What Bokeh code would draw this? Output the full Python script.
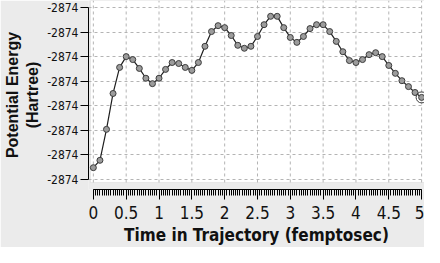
from bokeh.plotting import figure
from bokeh.models import Range1d, FixedTicker, SingleIntervalTicker, NumeralTickFormatter, BoxAnnotation, ColumnDataSource
from bokeh.embed import file_html
from bokeh.resources import INLINE

# Data
time_fs = [0.0, 0.1, 0.2, 0.3, 0.4, 0.5, 0.6, 0.7, 0.8, 0.9,
           1.0, 1.1, 1.2, 1.3, 1.4, 1.5, 1.6, 1.7, 1.8, 1.9,
           2.0, 2.1, 2.2, 2.3, 2.4, 2.5, 2.6, 2.7, 2.8, 2.9,
           3.0, 3.1, 3.2, 3.3, 3.4, 3.5, 3.6, 3.7, 3.8, 3.9,
           4.0, 4.1, 4.2, 4.3, 4.4, 4.5, 4.6, 4.7, 4.8, 4.9, 5.0]
energy_hartree = [-2874.276, -2874.261, -2874.198, -2874.125, -2874.072, -2874.050, -2874.056, -2874.074, -2874.094, -2874.105,
                  -2874.094, -2874.076, -2874.062, -2874.064, -2874.072, -2874.078, -2874.062, -2874.029, -2873.999, -2873.987,
                  -2873.991, -2874.007, -2874.027, -2874.033, -2874.029, -2874.009, -2873.985, -2873.968, -2873.968, -2873.991,
                  -2874.011, -2874.021, -2874.009, -2873.993, -2873.985, -2873.985, -2873.999, -2874.019, -2874.040, -2874.058,
                  -2874.062, -2874.056, -2874.046, -2874.042, -2874.050, -2874.068, -2874.084, -2874.099, -2874.111, -2874.123, -2874.133]
y_ticks = [-2874.30, -2874.25, -2874.20, -2874.15, -2874.10, -2874.05, -2874.00, -2873.95]
x_grid = [0.0, 0.5, 1.0, 1.5, 2.0, 2.5, 3.0, 3.5, 4.0, 4.5, 5.0]

BG = "#ebebeb"
GRID = "#b4b4b4"
NARROW = "DejaVu Sans Condensed"

p = figure(width=424, height=247, output_backend="svg", toolbar_location=None,
           x_range=Range1d(-0.074, 5.044), y_range=Range1d(-2874.3204, -2873.9358),
           min_border_left=78, min_border_right=0, min_border_top=0, min_border_bottom=58)
p.background_fill_color = BG
p.border_fill_color = BG
p.outline_line_color = None

white = BoxAnnotation(left=-0.044, bottom=-2874.3061, fill_color="white", fill_alpha=1.0,
                      line_color="#c4c4c4", line_width=1, level="image")
p.add_layout(white)

p.xgrid.visible = False
p.ygrid.ticker = FixedTicker(ticks=y_ticks)
p.ygrid.grid_line_color = GRID
p.ygrid.grid_line_dash = "3 3"

p.segment(x0=x_grid, x1=x_grid, y0=[-2874.3061] * len(x_grid), y1=[-2873.9358] * len(x_grid),
          line_color=GRID, line_dash="3 3", line_width=1)

src = ColumnDataSource(dict(t=time_fs, e=energy_hartree))
p.line("t", "e", source=src, line_color="#1e1e1e", line_width=1.2)
p.scatter("t", "e", source=src, size=6, fill_color="#9c9c9c", line_color="#3c3c3c", line_width=1)
p.scatter(x=[time_fs[-1]], y=[energy_hartree[-1]], size=11, fill_color=None, line_color="#3c3c3c", line_width=1)

# y axis
ya = p.yaxis[0]
ya.ticker = FixedTicker(ticks=y_ticks)
ya.formatter = NumeralTickFormatter(format="0")
ya.bounds = (-2874.30, -2873.95)
ya.axis_line_color = "black"
ya.major_tick_out = 8
ya.major_tick_in = 0
ya.minor_tick_line_color = None
ya.major_label_text_font = NARROW
ya.major_label_text_font_size = "12px"
ya.major_label_text_color = "#111111"
ya.major_label_standoff = 2
ya.axis_label = "Potential Energy\n(Hartree)"
ya.axis_label_text_font = "Liberation Sans"
ya.axis_label_text_font_style = "bold"
ya.axis_label_text_font_size = "16px"
ya.axis_label_text_color = "#111111"
ya.axis_label_standoff = 3

# x axis
xa = p.xaxis[0]
xa.ticker = SingleIntervalTicker(interval=0.5, num_minor_ticks=15)
xa.bounds = (0, 5)
xa.axis_line_color = "black"
xa.major_tick_out = 10
xa.major_tick_in = 0
xa.minor_tick_out = 6
xa.minor_tick_in = 0
xa.major_label_text_font = NARROW
xa.major_label_text_font_size = "17px"
xa.major_label_text_color = "#111111"
xa.major_label_standoff = 6
xa.axis_label = "Time in Trajectory (femptosec)"
xa.axis_label_text_font = NARROW
xa.axis_label_text_font_style = "bold"
xa.axis_label_text_font_size = "17px"
xa.axis_label_text_color = "#111111"
xa.axis_label_standoff = 3

open("out.html", "w").write(file_html(p, INLINE))
